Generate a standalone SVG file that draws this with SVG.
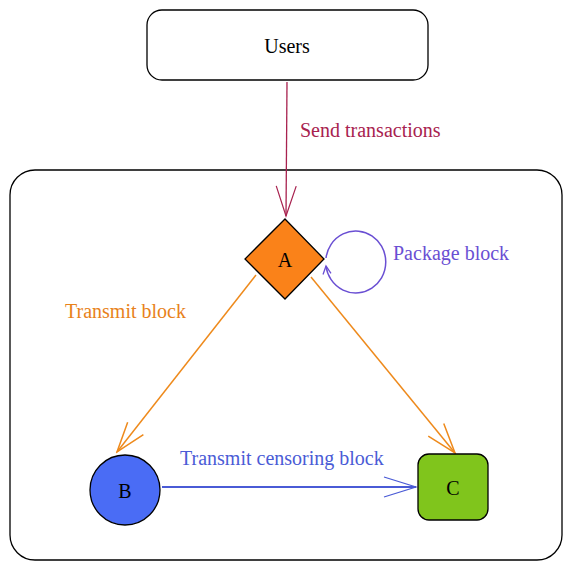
<svg xmlns="http://www.w3.org/2000/svg" width="572" height="570" viewBox="0 0 572 570">
<style>
text{font-family:"Liberation Serif","Times New Roman",serif;font-size:20px}
.lbl{text-anchor:middle;dominant-baseline:central;fill:#000}
.box{fill:#fff;stroke:#000;stroke-width:1.3}
.node{stroke:#000;stroke-width:1.3}
</style>
<defs>
<marker id="mRed" markerUnits="userSpaceOnUse" viewBox="-32 -12 34 24" refX="0" refY="0" markerWidth="34" markerHeight="24" orient="auto"><path d="M-30,-10 L0,0 L-30,10" fill="none" stroke="#A8224F" stroke-width="1.2"/></marker>
<marker id="mOr" markerUnits="userSpaceOnUse" viewBox="-32 -12 34 24" refX="0" refY="0" markerWidth="34" markerHeight="24" orient="auto"><path d="M-30,-10 L0,0 L-30,10" fill="none" stroke="#EE8A1C" stroke-width="1.5"/></marker>
<marker id="mBl" markerUnits="userSpaceOnUse" viewBox="-34 -12 36 24" refX="0" refY="0" markerWidth="36" markerHeight="24" orient="auto"><path d="M-32,-10 L0,0 L-32,10" fill="none" stroke="#4A5BD6" stroke-width="1.3"/></marker>
<marker id="mPu" markerUnits="userSpaceOnUse" viewBox="-10 -6 12 12" refX="0" refY="0" markerWidth="12" markerHeight="12" orient="auto"><path d="M-8,-4 L0,0 L-8,4" fill="none" stroke="#6A4FD3" stroke-width="1.3"/></marker>
</defs>
<g id="container"><rect x="10" y="170" width="552" height="390" rx="25" class="box"/></g>
<g id="users"><rect x="147" y="10" width="281" height="70" rx="15" class="box"/><text x="287" y="46" class="lbl">Users</text></g>
<g id="connectors" fill="none">
<line x1="287" y1="82" x2="286" y2="216" stroke="#A8224F" stroke-width="1.3" marker-end="url(#mRed)"/>
<text x="300" y="137" fill="#A8224F" style="stroke:none">Send transactions</text>
<line x1="256" y1="275" x2="117" y2="452" stroke="#EE8A1C" stroke-width="1.5" marker-end="url(#mOr)"/>
<line x1="311" y1="277" x2="455" y2="453" stroke="#EE8A1C" stroke-width="1.5" marker-end="url(#mOr)"/>
<text x="65" y="318" fill="#E8821A" style="stroke:none">Transmit block</text>
<path d="M326,258 A30,31 0 1 1 326,266" stroke="#6A4FD3" stroke-width="1.5" marker-end="url(#mPu)"/>
<text x="393" y="260" fill="#6A4FD3" style="stroke:none">Package block</text>
<line x1="162" y1="487" x2="416" y2="487" stroke="#4A5BD6" stroke-width="2" marker-end="url(#mBl)"/>
<text x="180" y="465" fill="#4A5BD6" style="stroke:none">Transmit censoring block</text>
</g>
<g id="A"><polygon points="285,219 324,259 285,299 245,259" fill="#FA8219" class="node"/><text x="285" y="260" class="lbl">A</text></g>
<g id="B"><circle cx="125" cy="490" r="35" fill="#4A6CF5" class="node"/><text x="125" y="491" class="lbl">B</text></g>
<g id="C"><rect x="418" y="454" width="70" height="66" rx="11" fill="#80C51C" class="node"/><text x="453" y="488" class="lbl">C</text></g>
</svg>
